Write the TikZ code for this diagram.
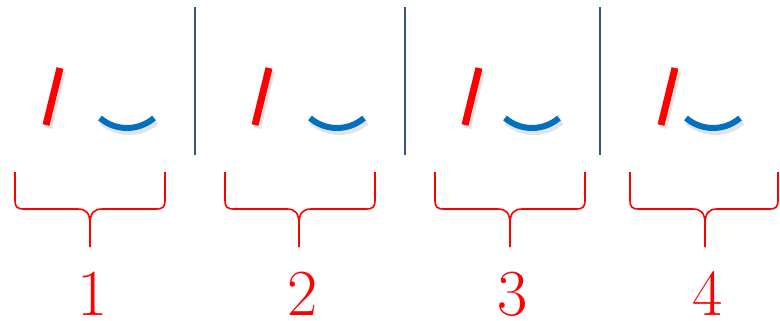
\documentclass[tikz,border=0pt]{standalone}
\definecolor{stickred}{RGB}{255,0,0}
\definecolor{arcblue}{RGB}{0,112,192}
\definecolor{divider}{RGB}{58,84,122}
\begin{document}
\begin{tikzpicture}[x=1bp,y=-1bp,
  redstick/.style={draw=stickred,line width=7bp},
  bluearc/.style={draw=arcblue,line width=6bp},
  shadowline/.style={draw=black!60,opacity=0.18,line width=8bp},
  divline/.style={draw=divider,line width=1.5bp},
  bracepath/.style={draw=stickred,line width=1.6bp},
  numlabel/.style={text=stickred,font=\rmfamily\fontsize{66}{66}\selectfont,anchor=base,inner sep=0pt}]
\useasboundingbox (0,0) rectangle (780,320);
% dividers
\foreach \x/\n in {195/a,405/b,600/c}{
  \coordinate (top\n) at (\x,7);
  \coordinate (bot\n) at (\x,155);
  \draw[divline] (top\n) -- (bot\n);
}
% sticks and arcs: red top x, red bottom x, arc centre x
\foreach \rt/\rb/\ac/\n in {60/46/127/1,269/255/337/2,479/465/532/3,675/661/713/4}{
  \coordinate (rt\n) at (\rt,68);
  \coordinate (rb\n) at (\rb,125);
  \coordinate (rts\n) at (\rt+2,71);
  \coordinate (rbs\n) at (\rb+2,128);
  \draw[shadowline] (rts\n) -- (rbs\n);
  \draw[redstick] (rt\n) -- (rb\n);
  \coordinate (ac\n) at (\ac,86.5);
  \coordinate (acs\n) at (\ac+2,89.5);
  \draw[shadowline] ([shift={(130.6:41.5)}]acs\n) arc[start angle=130.6,end angle=49.4,radius=41.5];
  \draw[bluearc] ([shift={(130.6:41.5)}]ac\n) arc[start angle=130.6,end angle=49.4,radius=41.5];
}
% braces: left, right, tip, number x, label
\foreach \l/\r/\t/\nx/\lab in {15/165/90/93/1,225/375/299/303/2,435/585/510/513/3,630/778/705/708/4}{
  \coordinate (bl\lab) at (\l,172);
  \coordinate (br\lab) at (\r,172);
  \coordinate (bt\lab) at (\t,247);
  \draw[bracepath] (bl\lab) -- (\l,200) .. controls (\l,207) and (\l+2,209) .. (\l+9,209)
     -- (\t-12,209) .. controls (\t-4,209) and (\t,213) .. (\t,224) -- (bt\lab);
  \draw[bracepath] (br\lab) -- (\r,200) .. controls (\r,207) and (\r-2,209) .. (\r-9,209)
     -- (\t+12,209) .. controls (\t+4,209) and (\t,213) .. (\t,224) -- (bt\lab);
  \node[numlabel] (num\lab) at (\nx,315) {\lab};
}
\end{tikzpicture}
\end{document}
